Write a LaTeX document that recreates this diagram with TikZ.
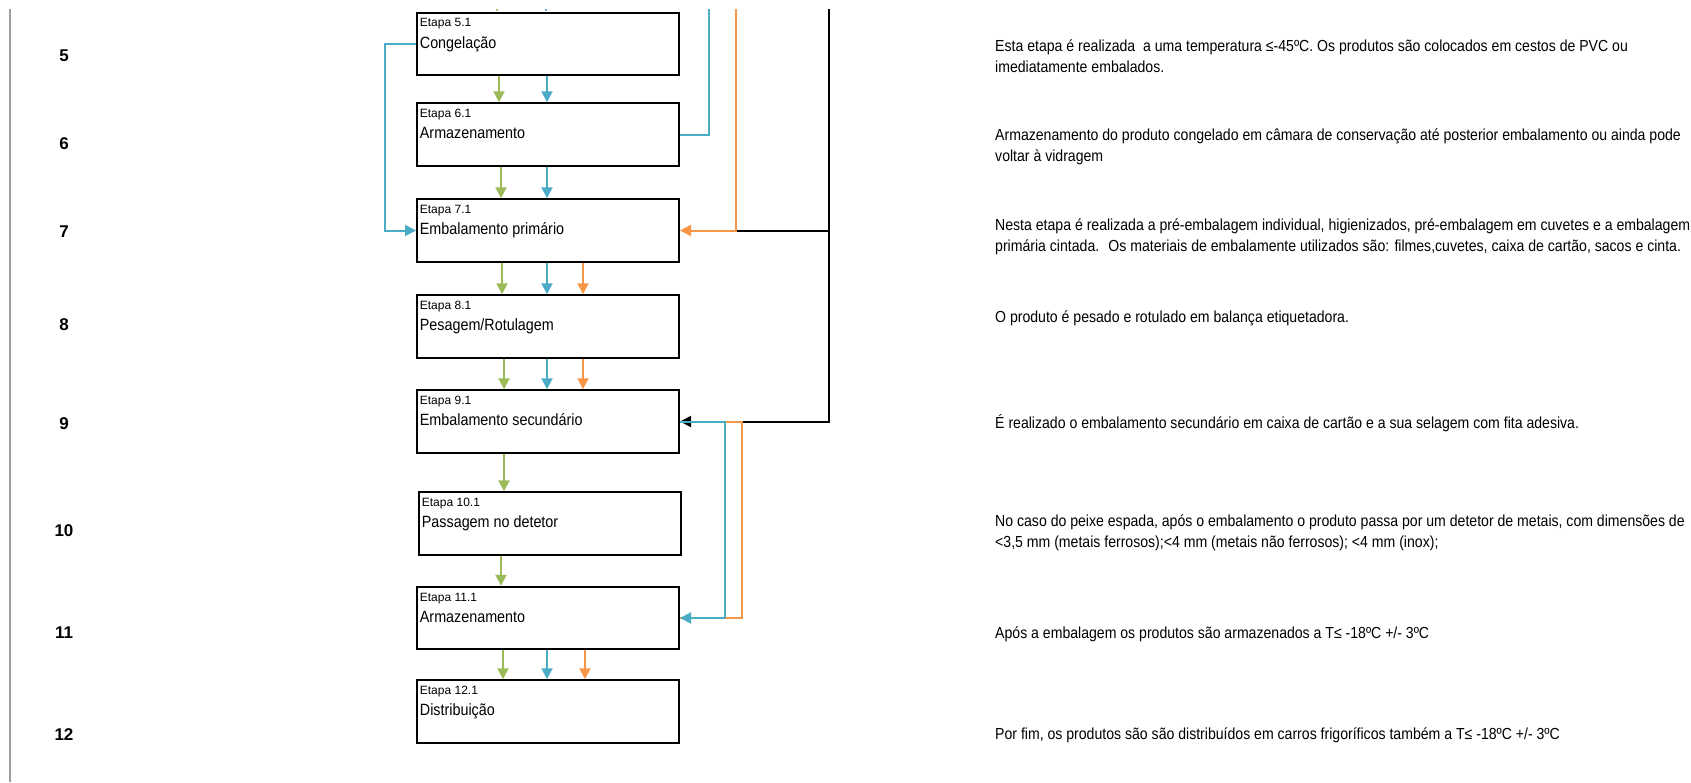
\documentclass[tikz,border=0pt]{standalone}
\usepackage{fontspec}
\setmainfont{Liberation Sans}
\newfontfamily\narrowfont[FakeStretch=0.88]{Liberation Sans}
\usetikzlibrary{arrows.meta}
\definecolor{flowgreen}{HTML}{9BBB59}
\definecolor{flowblue}{HTML}{4BACC6}
\definecolor{floworange}{HTML}{F79646}

\begin{document}
\begin{tikzpicture}[x=1pt,y=-1pt,
  etapa/.style={draw=black, line width=2pt, minimum width=262pt, minimum height=62.5pt, inner sep=0pt},
  etapanum/.style={anchor=base west, inner sep=0pt, font=\fontsize{12}{14}\selectfont},
  etapaname/.style={anchor=base west, inner sep=0pt, font=\narrowfont\fontsize{16.3}{20}\selectfont},
  rownum/.style={inner sep=0pt, font=\bfseries\fontsize{17}{20}\selectfont},
  note/.style={anchor=west, align=left, inner sep=0pt, font=\narrowfont\fontsize{16}{21}\selectfont},
  wire/.style={line width=2pt},
  flow/.style={wire, -{Triangle[length=11pt,width=11pt]}},
  gflow/.style={flow, draw=flowgreen},
  bflow/.style={flow, draw=flowblue},
  oflow/.style={flow, draw=floworange},
  kflow/.style={flow, draw=black}]
\useasboundingbox (0,0) rectangle (1691,782);
\clip (0,9.5) rectangle (1691,782);

% left margin rule and row numbers
\draw[line width=2pt, black!38] (9.5,9) -- (9.5,782);
\node[rownum] (n5) at (64,56) {5};
\node[rownum] (n6) at (64,144) {6};
\node[rownum] (n7) at (64,232) {7};
\node[rownum] (n8) at (64,325) {8};
\node[rownum] (n9) at (64,424) {9};
\node[rownum] (n10) at (64,531) {10};
\node[rownum] (n11) at (64,633) {11};
\node[rownum] (n12) at (64,735) {12};

% process steps
\node[etapa] (e5) at (548,43.85) {};
\node[etapanum] at ([xshift=3.7pt,yshift=-15.3pt]e5.north west) {Etapa 5.1};
\node[etapaname] at ([xshift=3.7pt,yshift=-36.6pt]e5.north west) {Congelação};
\node[etapa] (e6) at (548,134.5) {};
\node[etapanum] at ([xshift=3.7pt,yshift=-15.3pt]e6.north west) {Etapa 6.1};
\node[etapaname] at ([xshift=3.7pt,yshift=-36.6pt]e6.north west) {Armazenamento};
\node[etapa] (e7) at (548,230.5) {};
\node[etapanum] at ([xshift=3.7pt,yshift=-15.3pt]e7.north west) {Etapa 7.1};
\node[etapaname] at ([xshift=3.7pt,yshift=-36.6pt]e7.north west) {Embalamento primário};
\node[etapa] (e8) at (548,326.5) {};
\node[etapanum] at ([xshift=3.7pt,yshift=-15.3pt]e8.north west) {Etapa 8.1};
\node[etapaname] at ([xshift=3.7pt,yshift=-36.6pt]e8.north west) {Pesagem/Rotulagem};
\node[etapa] (e9) at (548,421.5) {};
\node[etapanum] at ([xshift=3.7pt,yshift=-15.3pt]e9.north west) {Etapa 9.1};
\node[etapaname] at ([xshift=3.7pt,yshift=-36.6pt]e9.north west) {Embalamento secundário};
\node[etapa] (e10) at (550,523.5) {};
\node[etapanum] at ([xshift=3.7pt,yshift=-15.3pt]e10.north west) {Etapa 10.1};
\node[etapaname] at ([xshift=3.7pt,yshift=-36.6pt]e10.north west) {Passagem no detetor};
\node[etapa] (e11) at (548,618) {};
\node[etapanum] at ([xshift=3.7pt,yshift=-15.3pt]e11.north west) {Etapa 11.1};
\node[etapaname] at ([xshift=3.7pt,yshift=-36.6pt]e11.north west) {Armazenamento};
\node[etapa] (e12) at (548,711.5) {};
\node[etapanum] at ([xshift=3.7pt,yshift=-15.3pt]e12.north west) {Etapa 12.1};
\node[etapaname] at ([xshift=3.7pt,yshift=-36.6pt]e12.north west) {Distribuição};

% descriptions
\node[note] (t5) at (995,56) {Esta etapa é realizada \ a uma temperatura ≤-45ºC. Os produtos são colocados em cestos de PVC ou\\imediatamente embalados.};
\node[note] (t6) at (995,147) {Armazenamento do produto congelado em câmara de conservação até posterior embalamento ou ainda pode\\voltar à vidragem};
\node[note] (t7) at (995,236.5) {Nesta etapa é realizada a pré-embalagem individual, higienizados, pré-embalagem em cuvetes e a embalagem\\primária cintada. \ Os materiais de embalamente utilizados são: filmes,cuvetes, caixa de cartão, sacos e cinta.};
\node[note] (t8) at (995,318) {O produto é pesado e rotulado em balança etiquetadora.};
\node[note] (t9) at (995,423) {É realizado o embalamento secundário em caixa de cartão e a sua selagem com fita adesiva.};
\node[note] (t10) at (995,533) {No caso do peixe espada, após o embalamento o produto passa por um detetor de metais, com dimensões de\\<3,5 mm (metais ferrosos);<4 mm (metais não ferrosos); <4 mm (inox);};
\node[note] (t11) at (995,634) {Após a embalagem os produtos são armazenados a T≤ -18ºC +/- 3ºC};
\node[note] (t12) at (995,735) {Por fim, os produtos são são distribuídos em carros frigoríficos também a T≤ -18ºC +/- 3ºC};

% main flow
\draw[gflow] ([xshift=81pt,yshift=30pt]e5.north west) -- ([xshift=81pt]e5.north west);
\draw[bflow] ([xshift=130pt,yshift=30pt]e5.north west) -- ([xshift=130pt]e5.north west);
\draw[gflow] ([xshift=83pt]e5.south west) -- ([xshift=83pt]e6.north west);
\draw[bflow] ([xshift=131pt]e5.south west) -- ([xshift=131pt]e6.north west);
\draw[gflow] ([xshift=85pt]e6.south west) -- ([xshift=85pt]e7.north west);
\draw[bflow] ([xshift=131pt]e6.south west) -- ([xshift=131pt]e7.north west);
\draw[gflow] ([xshift=86pt]e7.south west) -- ([xshift=86pt]e8.north west);
\draw[bflow] ([xshift=131pt]e7.south west) -- ([xshift=131pt]e8.north west);
\draw[oflow] ([xshift=167pt]e7.south west) -- ([xshift=167pt]e8.north west);
\draw[gflow] ([xshift=88pt]e8.south west) -- ([xshift=88pt]e9.north west);
\draw[bflow] ([xshift=131pt]e8.south west) -- ([xshift=131pt]e9.north west);
\draw[oflow] ([xshift=167pt]e8.south west) -- ([xshift=167pt]e9.north west);
\draw[gflow] ([xshift=88pt]e9.south west) -- ([xshift=86pt]e10.north west);
\draw[gflow] ([xshift=83pt]e10.south west) -- ([xshift=85pt]e11.north west);
\draw[gflow] ([xshift=87pt]e11.south west) -- ([xshift=87pt]e12.north west);
\draw[bflow] ([xshift=131pt]e11.south west) -- ([xshift=131pt]e12.north west);
\draw[oflow] ([xshift=169pt]e11.south west) -- ([xshift=169pt]e12.north west);

% returns and side feeds
\draw[bflow] (e5.west) -- ++(-31,0) |- (e7.west);
\draw[wire] (829,-5) -- (829,230.5) -- (736,230.5);
\draw[kflow] (829,-5) |- (e9.east);
\draw[oflow] (736,-5) |- (e7.east);
\draw[wire, draw=flowblue] (e6.east) -| (709,-5);
\draw[wire, draw=floworange] (e9.east) -| (742,618) -- (e11.east);
\draw[wire, draw=flowblue] (e9.east) -| (725,618);
\draw[bflow] (725,618) -- (e11.east);
\end{tikzpicture}
\end{document}
